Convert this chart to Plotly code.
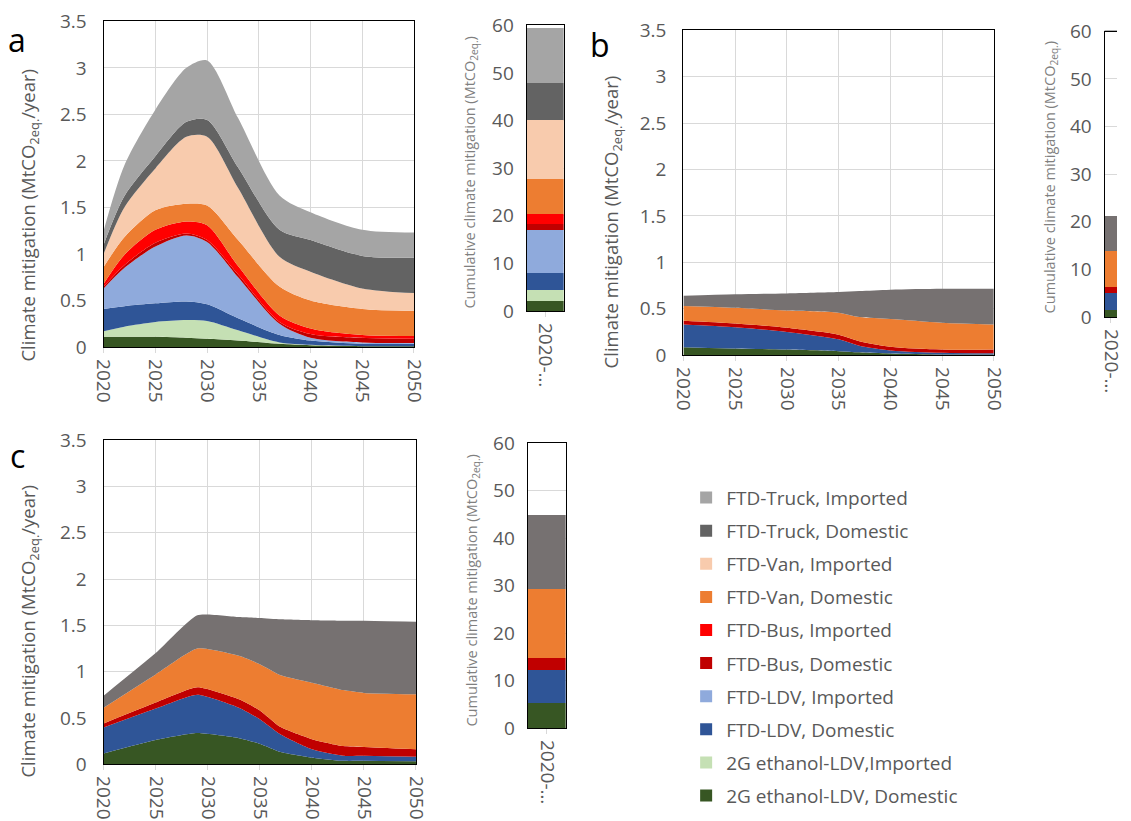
import plotly.graph_objects as go

W, H = 1131, 821

# ---------------- data ----------------
series_names = [
    "2G ethanol-LDV, Domestic", "2G ethanol-LDV,Imported",
    "FTD-LDV, Domestic", "FTD-LDV, Imported",
    "FTD-Bus, Domestic", "FTD-Bus, Imported",
    "FTD-Van, Domestic", "FTD-Van, Imported",
    "FTD-Truck, Domestic", "FTD-Truck, Imported",
]
series_colors = ["#375623", "#c5e0b4", "#2f5597", "#8faadc", "#c00000",
                 "#ff0000", "#ed7d31", "#f8cbad", "#636363", "#a5a5a5"]
truck_dom_color_bc = "#767171"

# Panel a (annual mitigation, MtCO2eq/year)
years_a = [2020, 2022, 2025, 2028, 2030, 2033, 2037, 2040, 2045, 2050]
a_eth_dom = [0.11, 0.11, 0.11, 0.10, 0.09, 0.07, 0.035, 0.02, 0.01, 0.01]
a_eth_imp = [0.06, 0.11, 0.16, 0.19, 0.19, 0.11, 0.015, 0.005, 0.0, 0.0]
a_ldv_dom = [0.24, 0.22, 0.20, 0.20, 0.18, 0.13, 0.08, 0.045, 0.025, 0.025]
a_ldv_imp = [0.22, 0.41, 0.61, 0.71, 0.67, 0.44, 0.12, 0.03, 0.015, 0.01]
a_bus_dom = [0.02, 0.03, 0.04, 0.02, 0.02, 0.03, 0.02, 0.04, 0.05, 0.045]
a_bus_imp = [0.03, 0.11, 0.14, 0.13, 0.16, 0.09, 0.07, 0.06, 0.03, 0.03]
a_van_dom = [0.18, 0.19, 0.21, 0.19, 0.21, 0.28, 0.31, 0.30, 0.28, 0.27]
a_van_imp = [0.14, 0.32, 0.45, 0.72, 0.74, 0.56, 0.32, 0.31, 0.22, 0.19]
a_trk_dom = [0.10, 0.12, 0.13, 0.16, 0.18, 0.22, 0.29, 0.34, 0.35, 0.38]
a_trk_imp = [0.15, 0.33, 0.50, 0.58, 0.64, 0.53, 0.37, 0.30, 0.28, 0.27]

# Panel a cumulative (MtCO2eq)
a_cum = [2.0, 2.3, 3.6, 9.15, 1.15, 2.2, 7.2, 12.4, 7.9, 11.5]

# Panel b
years_b = [2020, 2025, 2030, 2035, 2037, 2040, 2045, 2050]
b_eth_dom = [0.086, 0.072, 0.06, 0.043, 0.03, 0.018, 0.007, 0.007]
b_ldv_dom = [0.244, 0.228, 0.19, 0.127, 0.07, 0.032, 0.018, 0.013]
b_bus_dom = [0.04, 0.04, 0.045, 0.05, 0.05, 0.04, 0.035, 0.04]
b_van_dom = [0.16, 0.17, 0.185, 0.237, 0.26, 0.30, 0.29, 0.27]
b_trk_dom = [0.11, 0.145, 0.185, 0.223, 0.28, 0.315, 0.365, 0.385]
b_cum = [1.4, 3.65, 1.25, 7.4, 7.35]

# Panel c
years_c = [2020, 2025, 2029, 2033, 2035, 2037, 2040, 2043, 2045, 2050]
c_eth_dom = [0.115, 0.26, 0.335, 0.28, 0.22, 0.13, 0.07, 0.035, 0.035, 0.03]
c_ldv_dom = [0.28, 0.34, 0.415, 0.33, 0.265, 0.19, 0.09, 0.055, 0.055, 0.05]
c_bus_dom = [0.045, 0.065, 0.08, 0.09, 0.095, 0.08, 0.11, 0.105, 0.095, 0.08]
c_van_dom = [0.17, 0.305, 0.42, 0.47, 0.50, 0.56, 0.61, 0.605, 0.585, 0.595]
c_trk_dom = [0.13, 0.23, 0.36, 0.42, 0.50, 0.605, 0.675, 0.75, 0.78, 0.785]
c_cum = [5.3, 6.8, 2.5, 14.6, 15.7]

bar_category = ["2020-…"]
year_ticks = [2020, 2025, 2030, 2035, 2040, 2045, 2050]

# ---------------- figure ----------------
fig = go.Figure()

# map target picture pixels to figure pixels (compensates the capture offset/scale)
def fx(x):
    return (x - 11.2) / 0.979

def fy(y):
    return (y - 13.7) / 0.966

def dx(l, r):
    return [max(fx(l) / W, 0.0), min(fx(r) / W, 1.0)]

def dy(top, bottom):
    return [max(1 - fy(bottom) / H, 0.0), min(1 - fy(top) / H, 1.0)]

def px(x):
    return fx(x) / W

def py(y):
    return 1 - fy(y) / H

FONT = "Open Sans"
TICKFONT = dict(family=FONT, size=19, color="#595959")
GRID = "#d9d9d9"

a_series = [a_eth_dom, a_eth_imp, a_ldv_dom, a_ldv_imp, a_bus_dom,
            a_bus_imp, a_van_dom, a_van_imp, a_trk_dom, a_trk_imp]
for i, vals in enumerate(a_series):
    fig.add_trace(go.Scatter(x=years_a, y=vals, mode="none", stackgroup="a",
                             line=dict(shape="spline", smoothing=0.8),
                             fillcolor=series_colors[i], showlegend=False,
                             xaxis="x", yaxis="y", name=series_names[i]))
for i, v in enumerate(a_cum):
    fig.add_trace(go.Bar(x=bar_category, y=[v], marker_color=series_colors[i],
                         marker_line_width=0, name=series_names[i],
                         legendgroup=f"g{i}", legendrank=100 - i, showlegend=True,
                         xaxis="x2", yaxis="y2"))

b_idx = [0, 2, 4, 6, 8]
b_series = [b_eth_dom, b_ldv_dom, b_bus_dom, b_van_dom, b_trk_dom]
c_series = [c_eth_dom, c_ldv_dom, c_bus_dom, c_van_dom, c_trk_dom]

def col_bc(i):
    return truck_dom_color_bc if i == 8 else series_colors[i]

for k, vals in enumerate(b_series):
    i = b_idx[k]
    fig.add_trace(go.Scatter(x=years_b, y=vals, mode="none", stackgroup="b",
                             line=dict(shape="spline", smoothing=0.8),
                             fillcolor=col_bc(i), showlegend=False,
                             xaxis="x3", yaxis="y3", name=series_names[i]))
for k, v in enumerate(b_cum):
    i = b_idx[k]
    fig.add_trace(go.Bar(x=bar_category, y=[v], marker_color=col_bc(i),
                         marker_line_width=0, showlegend=False,
                         name=series_names[i], xaxis="x4", yaxis="y4"))
for k, vals in enumerate(c_series):
    i = b_idx[k]
    fig.add_trace(go.Scatter(x=years_c, y=vals, mode="none", stackgroup="c",
                             line=dict(shape="spline", smoothing=0.5),
                             fillcolor=col_bc(i), showlegend=False,
                             xaxis="x5", yaxis="y5", name=series_names[i]))
for k, v in enumerate(c_cum):
    i = b_idx[k]
    fig.add_trace(go.Bar(x=bar_category, y=[v], marker_color=col_bc(i),
                         marker_line_width=0, showlegend=False,
                         name=series_names[i], xaxis="x6", yaxis="y6"))

def area_x(dom, anchor):
    return dict(domain=dom, anchor=anchor, range=[2020, 2050], tickvals=year_ticks,
                tickangle=90, showgrid=True, gridcolor=GRID, gridwidth=1,
                showline=True, linecolor="black", linewidth=1.3, mirror=True,
                ticks="outside", ticklen=5, tickcolor=GRID, tickfont=TICKFONT,
                zeroline=False, ticklabelstandoff=2)

def area_y(dom, anchor):
    return dict(domain=dom, anchor=anchor, range=[0, 3.5], dtick=0.5,
                showgrid=True, gridcolor=GRID, gridwidth=1,
                showline=True, linecolor="black", linewidth=1.3, mirror=True,
                ticks="", tickfont=TICKFONT, zeroline=False, ticklabelstandoff=12)

def bar_x(dom, anchor, mirror=True):
    return dict(domain=dom, anchor=anchor, type="category", range=[-0.5, 0.5],
                tickangle=90, showgrid=False, showline=True, linecolor="black",
                linewidth=1.3, mirror=mirror, ticks="outside", ticklen=5,
                tickcolor=GRID, tickfont=TICKFONT, ticklabelstandoff=2)

def bar_y(dom, anchor, mirror=True):
    return dict(domain=dom, anchor=anchor, range=[0, 60], dtick=10,
                showgrid=True, gridcolor=GRID, gridwidth=1,
                showline=True, linecolor="black", linewidth=1.3, mirror=mirror,
                ticks="", tickfont=TICKFONT, zeroline=False, ticklabelstandoff=8)

fig.update_layout(
    width=W, height=H, margin=dict(l=0, r=0, t=0, b=0),
    paper_bgcolor="white", plot_bgcolor="white",
    barmode="stack", bargap=0,
    xaxis=area_x(dx(103, 414), "y"), yaxis=area_y(dy(22, 347), "x"),
    xaxis2=bar_x(dx(527, 564), "y2"), yaxis2=bar_y(dy(26, 311), "x2"),
    xaxis3=area_x(dx(684, 995), "y3"), yaxis3=area_y(dy(31, 355), "x3"),
    xaxis4=bar_x(dx(1106, 1131), "y4", mirror=False), yaxis4=bar_y(dy(32, 317), "x4", mirror=False),
    xaxis5=area_x(dx(103, 416), "y5"), yaxis5=area_y(dy(440, 763), "x5"),
    xaxis6=bar_x(dx(528, 566), "y6"), yaxis6=bar_y(dy(443, 727), "x6"),
    legend=dict(x=690 / W, y=1 - 481 / H, xanchor="left", yanchor="top",
                traceorder="grouped", tracegroupgap=5.4,
                font=dict(family=FONT, size=19, color="#595959"),
                bgcolor="rgba(0,0,0,0)"),
    showlegend=True,
)

# top border line of the clipped bar (panel b)
fig.add_shape(type="line", xref="paper", yref="paper", x0=px(1106), x1=1.0,
              y0=py(32), y1=py(32), line=dict(color="black", width=1.3))

ann = []
TITLE_FONT = dict(family=FONT, size=18.5, color="#595959")
CUM_FONT = dict(family=FONT, size=14.5, color="#7f7f7f")
ytitle = "Climate mitigation (MtCO<sub>2eq.</sub>/year)"
ctitle = "Cumulative climate mitigation (MtCO<sub>2eq.</sub>)"
for (x, y) in [(28, 215), (612, 222), (28, 630)]:
    ann.append(dict(text=ytitle, x=px(x), y=py(y), xref="paper", yref="paper",
                    textangle=-90, showarrow=False, font=TITLE_FONT,
                    xanchor="center", yanchor="middle"))
for (x, y) in [(471, 173), (1052, 178), (473, 590)]:
    ann.append(dict(text=ctitle, x=px(x), y=py(y), xref="paper", yref="paper",
                    textangle=-90, showarrow=False, font=CUM_FONT,
                    xanchor="center", yanchor="middle"))
for (t, x, y) in [("a", 16, 40), ("b", 600, 45), ("c", 17, 455)]:
    ann.append(dict(text=t, x=px(x), y=py(y), xref="paper", yref="paper",
                    showarrow=False, font=dict(family=FONT, size=32, color="black"),
                    xanchor="center", yanchor="middle"))
fig.update_layout(annotations=ann)

fig.write_html("out.html")
